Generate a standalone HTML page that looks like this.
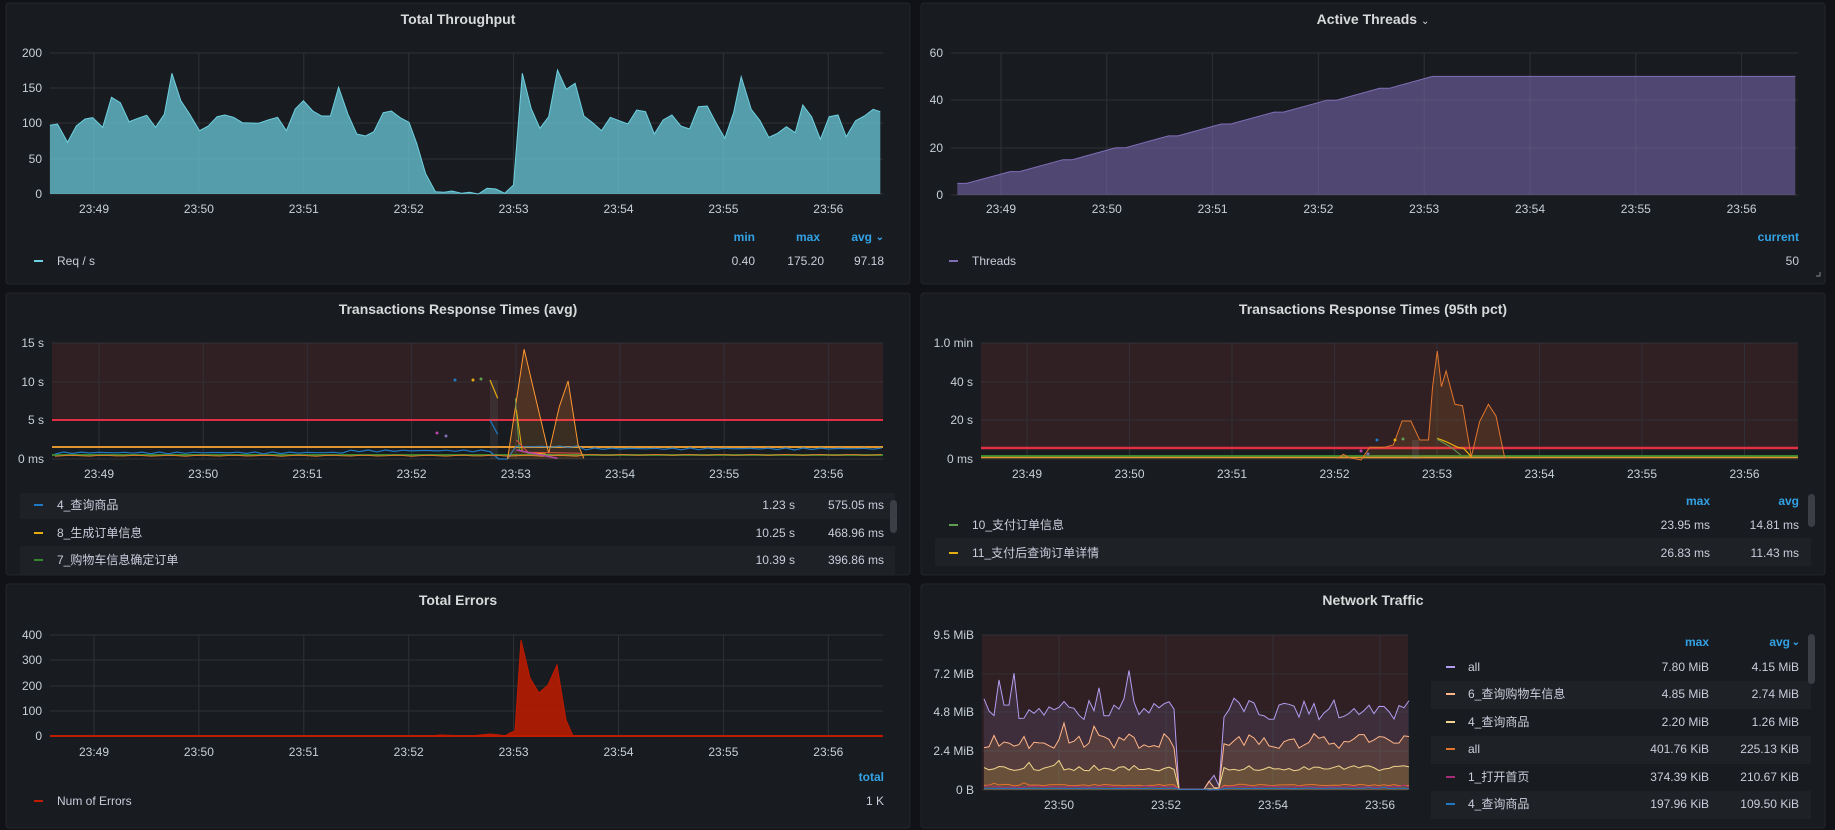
<!DOCTYPE html>
<html><head><meta charset="utf-8">
<style>
html,body{margin:0;padding:0;background:#111217;}
svg{display:block}
text{font-family:"Liberation Sans","Noto Sans CJK SC",sans-serif;fill:#ccccdc;font-size:12px}
.t{font-size:14px;font-weight:bold;fill:#d8d9da}
.h{fill:#33a2e5;font-weight:bold}
.ax{fill:#c7d0d9;font-size:12px}
</style></head><body>
<svg id="s" width="1835" height="830" xmlns="http://www.w3.org/2000/svg"></svg>
<script>
var o='';
function add(s){o+=s;}
function panel(x,y,w,h,title){add('<rect x="'+x+'" y="'+y+'" width="'+w+'" height="'+h+'" rx="3" fill="#181b1f" stroke="#24262b"/>');
add('<text class="t" x="'+(x+w/2)+'" y="'+(y+21)+'" text-anchor="middle">'+title+'</text>');}
function grid(x0,x1,y0,y1,yt,xt,ylbl,xlbly){
 yt.forEach(function(t){add('<line x1="'+x0+'" x2="'+x1+'" y1="'+t[0]+'" y2="'+t[0]+'" stroke="#2f3136"/>');add('<text class="ax" x="'+(x0-8)+'" y="'+(t[0]+4)+'" text-anchor="end">'+t[1]+'</text>');});
 xt.forEach(function(t){add('<line x1="'+t[0]+'" x2="'+t[0]+'" y1="'+y0+'" y2="'+y1+'" stroke="#2f3136"/>');add('<text class="ax" x="'+t[0]+'" y="'+xlbly+'" text-anchor="middle">'+t[1]+'</text>');});
}
function pts(a,sx,ox,sy,oy){return a.map(function(p){return (p[0]/sx+ox).toFixed(1)+','+(p[1]/sy+oy).toFixed(1)}).join(' ');}
function area(p,base,fill,fo,stroke){var a=p.split(' ');var f=a[0].split(','),l=a[a.length-1].split(',');
 add('<polygon points="'+f[0]+','+base+' '+p+' '+l[0]+','+base+'" fill="'+fill+'" fill-opacity="'+fo+'"/>');
 add('<polyline points="'+p+'" fill="none" stroke="'+stroke+'" stroke-width="1"/>');}
function line(p,c,w){add('<polyline points="'+p+'" fill="none" stroke="'+c+'" stroke-width="'+(w||1)+'"/>');}
var times=['23:49','23:50','23:51','23:52','23:53','23:54','23:55','23:56'];
function xt(start,step){return times.map(function(t,i){return [start+i*step,t]});}

panel(6,3,904,281,'Total Throughput');
grid(50,883,53,194,[[53,'200'],[88,'150'],[123,'100'],[159,'50'],[194,'0']],xt(94,104.9),'',213);
var tp=[[85,376],[98,372],[115,427],[130,378],[145,357],[158,353],[175,382],[190,292],[205,308],[220,365],[235,355],[250,346],[265,382],[280,343],[293,220],[308,302],[323,342],[340,392],[355,378],[370,350],[383,345],[398,352],[413,368],[440,370],[457,360],[473,352],[488,392],[503,327],[517,302],[533,333],[548,348],[563,348],[577,262],[593,343],[608,402],[623,408],[637,395],[653,338],[667,333],[682,353],[697,367],[710,430],[725,520],[742,575],[757,577],[770,573],[787,580],[800,577],[815,582],[830,565],[845,567],[860,580],[875,555],[890,220],[905,325],[920,385],[935,350],[950,210],[965,268],[980,250],[995,348],[1010,368],[1025,392],[1040,352],[1055,362],[1070,372],[1085,330],[1100,335],[1115,402],[1130,360],[1145,345],[1160,378],[1175,387],[1190,320],[1205,318],[1220,368],[1235,415],[1250,338],[1263,230],[1280,328],[1295,362],[1310,412],[1325,400],[1340,380],[1355,398],[1368,315],[1383,350],[1398,418],[1413,350],[1428,345],[1442,410],[1458,362],[1473,348],[1488,328],[1500,335]];
area(pts(tp,1.704,0,3,0),194,'#6ed0e0',0.72,'#6ed0e0');
add('<text class="h" x="755" y="241" text-anchor="end">min</text><text class="h" x="820" y="241" text-anchor="end">max</text><text class="h" x="872" y="241" text-anchor="end">avg</text><text class="h" x="884" y="240" text-anchor="end" style="font-size:10px">⌄</text>');
add('<rect x="34" y="260" width="9" height="2" fill="#6ed0e0"/><text x="57" y="265">Req / s</text>');
add('<text x="755" y="265" text-anchor="end">0.40</text><text x="824" y="265" text-anchor="end">175.20</text><text x="884" y="265" text-anchor="end">97.18</text>');

panel(921,3,904,281,'Active Threads <tspan style="font-size:10px;font-weight:normal">⌄</tspan>');
grid(951,1798,53,195,[[53,'60'],[100,'40'],[148,'20'],[195,'0']],xt(1001,105.8),'',213);
var th=[];for(var k=1;k<=10;k++){var a=72+90*(k-1),y=586-(5*k)*428/60;th.push([a,y]);th.push([a+16,y]);}
th.push([1500,586-50*428/60]);
area(pts(th,1.704,915,3,0),195,'#806eb7',0.55,'#806eb7');
add('<text class="h" x="1799" y="241" text-anchor="end">current</text>');
add('<rect x="949" y="260" width="9" height="2" fill="#806eb7"/><text x="972" y="265">Threads</text><text x="1799" y="265" text-anchor="end">50</text>');

panel(6,293,904,282,'Transactions Response Times (avg)');
add('<rect x="52" y="343" width="831" height="77" fill="#3a2225" fill-opacity="0.7"/>');
grid(52,883,343,459,[[343,'15 s'],[382,'10 s'],[420,'5 s'],[459,'0 ms']],xt(99,104.2),'',478);
line('52,420 883,420','#e02f44',2);line('52,447 883,447','#e0952f',2);line('52,455 883,455','#37872d',2);
add('<rect x="490" y="380" width="8" height="79" fill="#888" fill-opacity="0.15"/>');
var bl=[];for(var i=0;i<=95;i++){var x=55+i*8.7;var y=(x>490&&x<515)?459:455-2*Math.abs(Math.sin(i*1.7))-(x>350?(x>580?5:3):1)+ (x>515&&x<580?-4:0);bl.push(x.toFixed(1)+','+y.toFixed(1));}
line(bl.join(' '),'#1f78c1',1.2);
var ol=[];for(var i=0;i<=95;i++){var x=55+i*8.7;var y=457-(x>580?1.5:0.7)-Math.abs(Math.sin(i*2.3));ol.push(x.toFixed(1)+','+y.toFixed(1));}
line(ol.join(' '),'#e0752d',1);
var os=[[865,507],[893,178],[935,490],[953,350],[968,273],[985,465],[995,505]];
area(pts(os,1.704,0,3,290),459,'#ff9830',0.15,'#ff9830');
line(pts([[835,270],[848,325]],1.704,0,3,290),'#e5ac0e',1.2);
line(pts([[835,390],[848,433]],1.704,0,3,290),'#1f78c1',1.2);
line(pts([[878,325],[885,480],[900,490],[940,495]],1.704,0,3,290),'#629e51',1);
line(pts([[880,360],[890,485],[930,492]],1.704,0,3,290),'#e5ac0e',1);
line(pts([[880,450],[893,475],[900,487],[990,490]],1.704,0,3,290),'#e24d42',1);
line(pts([[880,480],[950,505]],1.704,0,3,290),'#ba43a9',1.5);
[[455,380,'#1f78c1'],[473,380,'#e5ac0e'],[481,379,'#629e51'],[437,433,'#ba43a9'],[446,436,'#806eb7']].forEach(function(d){add('<circle cx="'+d[0]+'" cy="'+d[1]+'" r="1.5" fill="'+d[2]+'"/>');});
add('<rect x="20" y="493" width="875" height="26" fill="#1e2126"/><rect x="20" y="546" width="875" height="29" fill="#1e2126"/>');
add('<rect x="890" y="500" width="7" height="33" rx="3.5" fill="#3b3e44"/>');
var r3=[['4_查询商品','#1f78c1','1.23 s','575.05 ms',509],['8_生成订单信息','#e5ac0e','10.25 s','468.96 ms',537],['7_购物车信息确定订单','#37872d','10.39 s','396.86 ms',564]];
r3.forEach(function(r){add('<rect x="34" y="'+(r[4]-5)+'" width="9" height="2" fill="'+r[1]+'"/><text x="57" y="'+r[4]+'">'+r[0]+'</text><text x="795" y="'+r[4]+'" text-anchor="end">'+r[2]+'</text><text x="884" y="'+r[4]+'" text-anchor="end">'+r[3]+'</text>');});

panel(921,293,904,282,'Transactions Response Times (95th pct)');
add('<rect x="981" y="343" width="817" height="105" fill="#3a2225" fill-opacity="0.7"/>');
grid(981,1798,343,459,[[343,'1.0 min'],[382,'40 s'],[420,'20 s'],[459,'0 ms']],xt(1027,102.5),'',478);
line('981,448 1798,448','#e02f44',2.5);
line('981,456 1798,456','#37872d',2);line('981,457.5 1798,457.5','#e0952f',1.5);
var o4=[[720,505],[730,493],[740,503],[760,510],[775,472],[800,472],[815,465],[830,393],[845,393],[860,450],[875,450],[882,290],[890,183],[897,290],[905,243],[920,343],[933,347],[948,500],[962,395],[977,343],[990,378],[1005,505]];
area(pts(o4,1.704,915,3,290),459,'#ff9830',0.12,'#e0752d');
line(pts([[890,445],[905,455],[925,472],[935,475],[948,500]],1.704,915,3,290),'#e5ac0e',1.2);
line(pts([[890,448],[912,470],[930,495]],1.704,915,3,290),'#629e51',1);
add('<rect x="1412" y="440" width="7" height="19" fill="#888" fill-opacity="0.2"/>');
[[1377,440,'#1f78c1'],[1395,440,'#e5ac0e'],[1403,439,'#629e51'],[1361,451,'#ba43a9'],[1368,454,'#806eb7']].forEach(function(d){add('<circle cx="'+d[0]+'" cy="'+d[1]+'" r="1.5" fill="'+d[2]+'"/>');});
add('<text class="h" x="1710" y="505" text-anchor="end">max</text><text class="h" x="1799" y="505" text-anchor="end">avg</text>');
add('<rect x="935" y="538" width="876" height="28" fill="#1e2126"/><rect x="1808" y="494" width="7" height="33" rx="3.5" fill="#3b3e44"/>');
[['10_支付订单信息','#629e51','23.95 ms','14.81 ms',529],['11_支付后查询订单详情','#e5ac0e','26.83 ms','11.43 ms',557]].forEach(function(r){add('<rect x="949" y="'+(r[4]-5)+'" width="9" height="2" fill="'+r[1]+'"/><text x="972" y="'+r[4]+'">'+r[0]+'</text><text x="1710" y="'+r[4]+'" text-anchor="end">'+r[2]+'</text><text x="1799" y="'+r[4]+'" text-anchor="end">'+r[3]+'</text>');});

panel(6,584,904,244,'Total Errors');
grid(50,883,635,736,[[635,'400'],[660,'300'],[686,'200'],[711,'100'],[736,'0']],xt(94,104.9),'',756);
var er=[[50,736],[430,736],[440,735],[470,736],[490,734],[500,735],[505,736],[510,733],[515,731],[521,640],[530,678],[539,693],[548,685],[557,665],[566,720],[573,736],[883,736]];
area(er.map(function(p){return p[0]+','+p[1]}).join(' '),736,'#bf1b00',0.85,'#bf1b00');
line('50,736 883,736','#bf1b00',2);
add('<text class="h" x="884" y="781" text-anchor="end">total</text>');
add('<rect x="34" y="800" width="9" height="2" fill="#bf1b00"/><text x="57" y="805">Num of Errors</text><text x="884" y="805" text-anchor="end">1 K</text>');

panel(921,584,904,244,'Network Traffic');
add('<rect x="982" y="635" width="426" height="155" fill="#3a2225" fill-opacity="0.7"/>');
var ny=function(v){return 790-v/9.5*155;};
grid(982,1408,635,790,[[635,'9.5 MiB'],[674,'7.2 MiB'],[712,'4.8 MiB'],[751,'2.4 MiB'],[790,'0 B']],[[1059,'23:50'],[1166,'23:52'],[1273,'23:54'],[1380,'23:56']],'',809);
function rnd(s){var x=Math.sin(s*12.9898)*43758.5453;return x-Math.floor(x);}
function ser(base,amp,seed){var a=[];for(var i=0;i<=85;i++){var x=984+i*5;var v;if(x>1175&&x<1205)v=0.05;else if(x>=1205&&x<1222)v=base*0.35*rnd(i+seed);else v=base+amp*0.7*(rnd(i*3.1+seed)-0.5)+(rnd(i+seed*7)>0.95?amp*0.9:0);a.push(x+','+ny(Math.max(0,v)).toFixed(1));}return a.join(' ');}
area(ser(5.0,2.0,1),790,'#a48ee8',0.12,'#b29df0');
area(ser(3.0,1.3,2),790,'#ffb357',0.12,'#ffb68a');
area(ser(1.35,0.5,3),790,'#fade2a',0.12,'#f2d58f');
line(ser(0.3,0.15,4),'#e0752d',1);line(ser(0.2,0.1,5),'#a52d78',1);line(ser(0.1,0.05,6),'#1f78c1',1);
add('<text class="h" x="1709" y="646" text-anchor="end">max</text><text class="h" x="1790" y="646" text-anchor="end">avg</text><text class="h" x="1800" y="645" text-anchor="end" style="font-size:10px">⌄</text>');
add('<rect x="1431" y="681" width="380" height="28" fill="#1e2126"/><rect x="1431" y="736" width="380" height="28" fill="#1e2126"/><rect x="1431" y="791" width="380" height="28" fill="#1e2126"/>');
add('<rect x="1808" y="634" width="7" height="50" rx="3.5" fill="#3b3e44"/>');
[['all','#b29df0','7.80 MiB','4.15 MiB',671],['6_查询购物车信息','#ffb68a','4.85 MiB','2.74 MiB',698],['4_查询商品','#f2d58f','2.20 MiB','1.26 MiB',726],['all','#e0752d','401.76 KiB','225.13 KiB',753],['1_打开首页','#a52d78','374.39 KiB','210.67 KiB',781],['4_查询商品','#1f78c1','197.96 KiB','109.50 KiB',808]].forEach(function(r){add('<rect x="1446" y="'+(r[4]-5)+'" width="9" height="2" fill="'+r[1]+'"/><text x="1468" y="'+r[4]+'">'+r[0]+'</text><text x="1709" y="'+r[4]+'" text-anchor="end">'+r[2]+'</text><text x="1799" y="'+r[4]+'" text-anchor="end">'+r[3]+'</text>');});
add('<path d="M1816 276 l4 0 l0 -4" stroke="#888" fill="none"/>');
document.getElementById('s').innerHTML=o;
</script>
</body></html>
